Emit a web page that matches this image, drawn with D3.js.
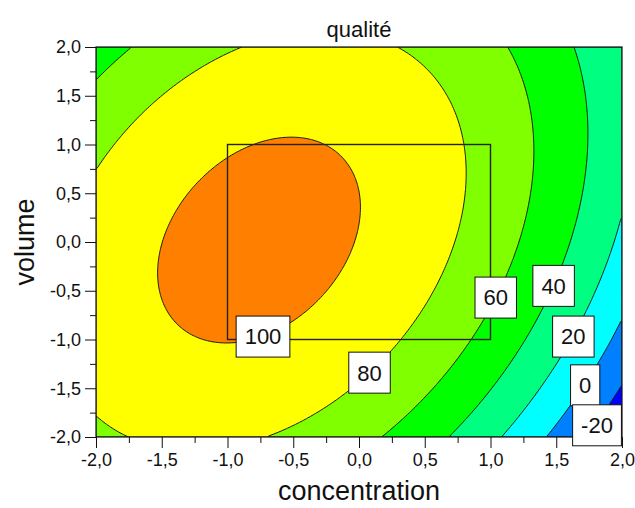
<!DOCTYPE html>
<html>
<head>
<meta charset="utf-8">
<script src="https://cdn.jsdelivr.net/npm/d3@7"></script>
<style>
body{margin:0;background:#fff;}
text{font-family:"Liberation Sans",Arial,sans-serif;fill:#111;}
.axis text{font-size:18px;}
.axis line{stroke:#111;}
</style>
</head>
<body>
<svg id="chart"></svg>
<script>
// fitted quadratic model: b0, b1 (concentration), b2 (volume), b11, b22, b12
var coefficients = [99.4, -18.05, 4.43, -11.8, -6.3, 5.5];
var levels = [-20, 0, 20, 40, 60, 80, 100];
var bandColors = ["#0000ff","#0080ff","#00ffff","#00ff80","#00ff00","#80ff00","#ffff00","#ff8000"];
var majorTicks = [-2, -1.5, -1, -0.5, 0, 0.5, 1, 1.5, 2];
var minorTicks = [-1.75, -1.25, -0.75, -0.25, 0.25, 0.75, 1.25, 1.75];
var labelValues = ["100", "80", "60", "40", "20", "0", "-20"];
var labelConc = [-0.73, 0.08, 1.04, 1.48, 1.63, 1.72, 1.81];
var labelVol = [-0.97, -1.34, -0.57, -0.45, -0.97, -1.47, -1.88];
var domainBox = [-1, 1, -1, 1];

var quality = function(x, y)
{
    var b = coefficients;
    return b[0] + b[1]*x + b[2]*y + b[3]*x*x + b[4]*y*y + b[5]*x*y;
}

var screen = {width:635, height:508};
var margins = {left:96, right:13, top:47, bottom:71};
var graph = {
    width:screen.width - margins.left - margins.right,
    height:screen.height - margins.top - margins.bottom
};

var svg = d3.select("#chart")
    .attr("width", screen.width)
    .attr("height", screen.height);

var xScale = d3.scaleLinear().domain([-2, 2]).range([0, graph.width]);
var yScale = d3.scaleLinear().domain([-2, 2]).range([graph.height, 0]);

var fmt = d3.formatLocale({decimal:",", thousands:".", grouping:[3], currency:["",""], minus:"-"}).format(".1f");

var target = svg.append("g")
    .attr("transform", "translate(" + margins.left + "," + margins.top + ")");

svg.append("defs").append("clipPath").attr("id", "plotClip")
    .append("rect").attr("width", graph.width).attr("height", graph.height);

// grid of model values at cell centres
var n = 200;
var values = new Array(n*n);
for (var j = 0; j < n; j++)
{
    for (var i = 0; i < n; i++)
    {
        values[j*n + i] = quality(-2 + 4*(i + 0.5)/n, -2 + 4*(j + 0.5)/n);
    }
}
var contours = d3.contours().size([n, n]).thresholds(levels)(values);

var path = d3.geoPath(d3.geoTransform({
    point:function(u, v)
    {
        this.stream.point(xScale(-2 + 4*u/n), yScale(-2 + 4*v/n));
    }
}));

var plot = target.append("g").attr("clip-path", "url(#plotClip)");
plot.append("rect")
    .attr("width", graph.width)
    .attr("height", graph.height)
    .attr("fill", bandColors[0]);
plot.selectAll("path.band")
    .data(contours)
    .enter()
    .append("path")
    .attr("class", "band")
    .attr("d", path)
    .attr("fill", function(d, i) { return bandColors[i + 1]; })
    .attr("stroke", "#1a1a1a")
    .attr("stroke-width", 1);

// experimental domain
target.append("rect")
    .attr("x", xScale(domainBox[0]))
    .attr("y", yScale(domainBox[3]))
    .attr("width", xScale(domainBox[1]) - xScale(domainBox[0]))
    .attr("height", yScale(domainBox[2]) - yScale(domainBox[3]))
    .attr("fill", "none")
    .attr("stroke", "#222")
    .attr("stroke-width", 1.4);

// frame
target.append("rect")
    .attr("width", graph.width)
    .attr("height", graph.height)
    .attr("fill", "none")
    .attr("stroke", "#111")
    .attr("stroke-width", 1.2);

// axes
target.append("g").attr("class", "axis")
    .attr("transform", "translate(0," + graph.height + ")")
    .call(d3.axisBottom(xScale).tickValues(majorTicks).tickSize(11).tickSizeOuter(0).tickPadding(5).tickFormat(fmt));
target.append("g").attr("class", "axis")
    .attr("transform", "translate(0," + graph.height + ")")
    .call(d3.axisBottom(xScale).tickValues(minorTicks).tickSize(6).tickSizeOuter(0).tickFormat(""));
target.append("g").attr("class", "axis")
    .call(d3.axisLeft(yScale).tickValues(majorTicks).tickSize(11).tickSizeOuter(0).tickPadding(4).tickFormat(fmt));
target.append("g").attr("class", "axis")
    .call(d3.axisLeft(yScale).tickValues(minorTicks).tickSize(6).tickSizeOuter(0).tickFormat(""));
target.selectAll(".axis .domain").remove();
target.selectAll(".axis text").attr("font-family", null).attr("font-size", null);

// contour labels
var labels = target.selectAll("g.clabel")
    .data(labelValues)
    .enter()
    .append("g")
    .attr("class", "clabel")
    .attr("transform", function(d, i)
    {
        return "translate(" + xScale(labelConc[i]) + "," + yScale(labelVol[i]) + ")";
    });
labels.append("rect").attr("fill", "#fff").attr("stroke", "#111").attr("stroke-width", 1);
labels.append("text")
    .text(function(d) { return d; })
    .attr("text-anchor", "middle")
    .attr("dy", "0.36em")
    .style("font-size", "22px");
labels.each(function()
{
    var g = d3.select(this);
    var w = g.select("text").node().getComputedTextLength() + 17;
    g.select("rect").attr("x", -w/2).attr("y", -20.5).attr("width", w).attr("height", 41);
});

// titles
svg.append("text")
    .text("qualité")
    .attr("text-anchor", "middle")
    .attr("x", margins.left + graph.width/2)
    .attr("y", 37)
    .style("font-size", "22px");
svg.append("text")
    .text("concentration")
    .attr("text-anchor", "middle")
    .attr("x", margins.left + graph.width/2)
    .attr("y", 500)
    .style("font-size", "27px");
svg.append("g")
    .attr("transform", "translate(34," + (margins.top + graph.height/2) + ")")
    .append("text")
    .text("volume")
    .attr("text-anchor", "middle")
    .attr("transform", "rotate(270)")
    .style("font-size", "27px");
</script>
</body>
</html>
